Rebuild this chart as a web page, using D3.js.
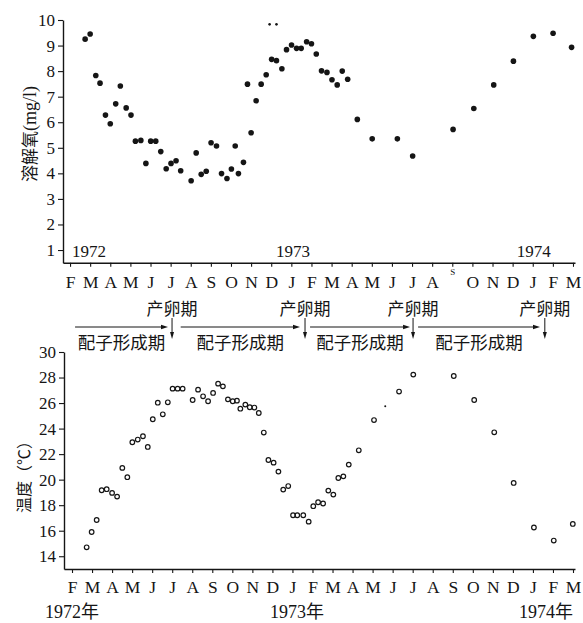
<!DOCTYPE html>
<html>
<head>
<meta charset="utf-8">
<script src="https://cdn.jsdelivr.net/npm/d3@7/dist/d3.min.js"></script>
<style>
  html, body { margin: 0; padding: 0; background: #fff; }
  svg { display: block; }
  .tick text { font-family: "Liberation Serif", "DejaVu Serif", serif; }
</style>
</head>
<body>
<svg id="chart" width="583" height="623"></svg>
<script>
// ---- Data (month index: 0 = Feb 1972, 1 = Mar 1972, ... 25 = Mar 1974) ----
const monthLabels = ["F","M","A","M","J","J","A","S","O","N","D","J","F","M","A","M","J","J","A","S","O","N","D","J","F","M"];

// Dissolved oxygen (mg/l)
const doMonths = [0.75,1.0,1.28,1.49,1.76,2.0,2.27,2.5,2.79,3.03,3.25,3.52,3.77,4.01,4.26,4.51,4.78,5.02,5.27,5.5,
  6.02,6.27,6.52,6.77,7.01,7.28,7.53,7.8,8.02,8.21,8.37,8.62,8.82,9.0,9.25,9.5,9.75,10.02,10.26,10.53,10.76,11.01,11.26,
  11.49,11.76,12.0,12.24,12.5,12.77,13.02,13.28,13.53,13.8,14.28,15.02,16.27,17.03,19.04,20.07,21.06,22.04,23.03,24.01,24.93];
const doValues = [9.25,9.45,7.83,7.53,6.28,5.94,6.72,7.42,6.56,6.28,5.26,5.29,4.39,5.26,5.26,4.85,4.18,4.39,4.49,4.1,
  3.71,4.8,3.96,4.08,5.2,5.07,3.99,3.8,4.17,5.07,3.99,4.43,7.49,5.59,6.84,7.49,7.86,8.46,8.41,8.09,8.84,9.02,8.89,
  8.89,9.15,9.07,8.67,8.01,7.95,7.66,7.46,8.0,7.68,6.11,5.35,5.35,4.68,5.72,6.54,7.46,8.39,9.36,9.48,8.93];
// faint small dots near the top (Dec 1972)
const doFaintMonths = [9.92,10.26];
const doFaintValues = [9.83,9.83];

// Water temperature (°C)
const tMonths = [0.73,0.98,1.23,1.48,1.73,2.0,2.25,2.51,2.76,3.01,3.28,3.54,3.78,4.03,4.28,4.53,4.78,5.02,5.27,5.52,
  6.02,6.29,6.54,6.79,7.04,7.29,7.53,7.78,8.02,8.23,8.4,8.65,8.87,9.1,9.32,9.57,9.8,10.06,10.3,10.54,10.79,11.03,11.24,
  11.54,11.81,12.04,12.28,12.53,12.79,13.04,13.29,13.54,13.81,14.31,15.07,16.32,17.03,19.05,20.07,21.07,22.04,23.05,24.04,24.99];
const tValues = [14.7,15.9,16.84,19.17,19.25,18.96,18.67,20.92,20.19,22.93,23.14,23.4,22.56,24.73,26.03,25.12,26.06,27.13,27.13,27.13,
  26.24,27.05,26.53,26.14,26.79,27.52,27.31,26.29,26.14,26.19,25.56,25.88,25.67,25.65,25.22,23.69,21.54,21.33,20.63,19.22,19.5,17.21,17.21,
  17.21,16.71,17.92,18.23,18.13,19.14,18.83,20.13,20.26,21.18,22.3,24.67,26.9,28.23,28.12,26.24,23.71,19.74,16.25,15.23,16.53];
const tFaintMonths = [15.63];
const tFaintValues = [25.75];

const doTicks = [1,2,3,4,5,6,7,8,9,10];
const tTicks = [14,16,18,20,22,24,26,28,30];

// Reproductive cycle annotations (month index)
const spawnMonths = [5.07, 11.68, 17.05, 23.6];
const spawnLabel = "产卵期";
const gameteStart = [0.25, 5.5, 11.93, 17.3];
const gameteEnd   = [4.87, 11.43, 16.9, 23.36];
const gameteLabel = "配子形成期";

const topYears = ["1972","1973","1974"];
const topYearMonths = [0.1, 10.24, 22.2];
const bottomYears = ["1972年","1973年","1974年"];
const bottomYearMonths = [-1.35, 9.88, 22.3];

// ---- Drawing ----
const svg = d3.select("#chart");
const ink = "#151515";
const serif = '"Liberation Serif", "DejaVu Serif", serif';
const cjk = '"Noto Sans CJK SC", "Noto Sans CJK JP", sans-serif';

// Top panel scales
const xTop = d3.scaleLinear().domain([-0.35, 25.1]).range([63, 575]);
const yTop = d3.scaleLinear().domain([0.5, 10]).range([262.8, 20]);
// Bottom panel scales
const xBot = d3.scaleLinear().domain([-0.4, 25.1]).range([64, 575]);
const yBot = d3.scaleLinear().domain([13, 30]).range([569, 352]);

function styleAxis(g, fs) {
  g.selectAll("path.domain").attr("stroke", ink).attr("stroke-width", 1.4);
  g.selectAll(".tick line").attr("stroke", ink).attr("stroke-width", 1.1);
  g.selectAll(".tick text").attr("fill", ink).style("font-size", fs + "px").style("font-family", serif);
}

// --- Top axes
const gTopY = svg.append("g").attr("transform", "translate(63,0)")
  .call(d3.axisLeft(yTop).tickValues(doTicks).tickFormat(d3.format("d")).tickSize(5).tickSizeOuter(0).tickPadding(3));
styleAxis(gTopY, 17);

const gTopX = svg.append("g").attr("transform", "translate(0,262.8)")
  .call(d3.axisBottom(xTop).tickValues(d3.range(monthLabels.length)).tickFormat((d, i) => monthLabels[i]).tickSize(4).tickSizeOuter(0).tickPadding(9));
styleAxis(gTopX, 17.5);
// the printed "S" of Sep 1973 is a small raised glyph in the original
gTopX.selectAll(".tick text").filter((d) => d === 19)
  .style("font-size", "9px").attr("dy", "-0.1em");

// --- Top year labels
svg.append("g").selectAll("text").data(topYears).join("text")
  .attr("x", (d, i) => xTop(topYearMonths[i])).attr("y", 257)
  .attr("font-family", serif).attr("font-size", 17).attr("fill", ink)
  .text(d => d);

// --- Top DO points
svg.append("g").selectAll("circle").data(doMonths).join("circle")
  .attr("cx", (d) => xTop(d)).attr("cy", (d, i) => yTop(doValues[i]))
  .attr("r", 2.8).attr("fill", ink);
svg.append("g").selectAll("circle").data(doFaintMonths).join("circle")
  .attr("cx", (d) => xTop(d)).attr("cy", (d, i) => yTop(doFaintValues[i]))
  .attr("r", 1.3).attr("fill", ink);

// --- Y label top
svg.append("text")
  .attr("transform", "translate(36,134) rotate(-90)")
  .attr("text-anchor", "middle").attr("fill", ink)
  .call(t => {
    t.append("tspan").attr("font-family", cjk).attr("font-size", 17).text("溶解氧");
    t.append("tspan").attr("font-family", serif).attr("font-size", 18).text("(mg/l)");
  });

// --- Reproductive cycle annotations
const ann = svg.append("g");
const arrowY = 327;
// horizontal gametogenesis arrows
ann.selectAll("line.h").data(gameteStart).join("line").attr("class", "h")
  .attr("x1", d => xTop(d)).attr("x2", (d, i) => xTop(gameteEnd[i]) - 4)
  .attr("y1", arrowY).attr("y2", arrowY)
  .attr("stroke", ink).attr("stroke-width", 1);
ann.selectAll("path.hh").data(gameteEnd).join("path").attr("class", "hh")
  .attr("d", d => { const x = xTop(d); return `M${x},${arrowY} L${x - 7},${arrowY - 2.2} L${x - 7},${arrowY + 2.2} Z`; })
  .attr("fill", ink);
ann.selectAll("text.g").data(gameteStart).join("text").attr("class", "g")
  .attr("x", (d, i) => (xTop(d) + xTop(gameteEnd[i])) / 2).attr("y", 349)
  .attr("text-anchor", "middle").attr("font-family", cjk).attr("font-size", 17.5).attr("fill", ink)
  .text(gameteLabel);
// vertical spawning arrows
ann.selectAll("line.v").data(spawnMonths).join("line").attr("class", "v")
  .attr("x1", d => xTop(d)).attr("x2", d => xTop(d))
  .attr("y1", 318).attr("y2", 333)
  .attr("stroke", ink).attr("stroke-width", 1);
ann.selectAll("path.vh").data(spawnMonths).join("path").attr("class", "vh")
  .attr("d", d => { const x = xTop(d); return `M${x},339 L${x - 2},332 L${x + 2},332 Z`; })
  .attr("fill", ink);
ann.selectAll("text.s").data(spawnMonths).join("text").attr("class", "s")
  .attr("x", d => xTop(d)).attr("y", 315)
  .attr("text-anchor", "middle").attr("font-family", cjk).attr("font-size", 17).attr("fill", ink)
  .text(spawnLabel);

// --- Bottom axes
const gBotY = svg.append("g").attr("transform", "translate(64,0)")
  .call(d3.axisLeft(yBot).tickValues(tTicks).tickFormat(d3.format("d")).tickSize(5).tickSizeOuter(0).tickPadding(3));
styleAxis(gBotY, 17);

const gBotX = svg.append("g").attr("transform", "translate(0,569)")
  .call(d3.axisBottom(xBot).tickValues(d3.range(monthLabels.length)).tickFormat((d, i) => monthLabels[i]).tickSize(4).tickSizeOuter(0).tickPadding(8));
styleAxis(gBotX, 17.5);

// --- Bottom temperature points
svg.append("g").selectAll("circle").data(tMonths).join("circle")
  .attr("cx", d => xBot(d)).attr("cy", (d, i) => yBot(tValues[i]))
  .attr("r", 2.3).attr("fill", "none").attr("stroke", ink).attr("stroke-width", 1.2);
svg.append("g").selectAll("circle").data(tFaintMonths).join("circle")
  .attr("cx", d => xBot(d)).attr("cy", (d, i) => yBot(tFaintValues[i]))
  .attr("r", 1).attr("fill", ink);

// --- Y label bottom
svg.append("text")
  .attr("transform", "translate(30,473) rotate(-90)")
  .attr("text-anchor", "middle").attr("fill", ink)
  .attr("font-family", cjk).attr("font-size", 16)
  .text("温度（℃）");

// --- Bottom year labels
svg.append("g").selectAll("text").data(bottomYears).join("text")
  .attr("x", (d, i) => xBot(bottomYearMonths[i])).attr("y", 618)
  .attr("fill", ink)
  .each(function(d) {
    const t = d3.select(this);
    t.append("tspan").attr("font-family", serif).attr("font-size", 18).text(d.slice(0, 4));
    t.append("tspan").attr("font-family", cjk).attr("font-size", 18).text(d.slice(4));
  });
</script>
</body>
</html>
